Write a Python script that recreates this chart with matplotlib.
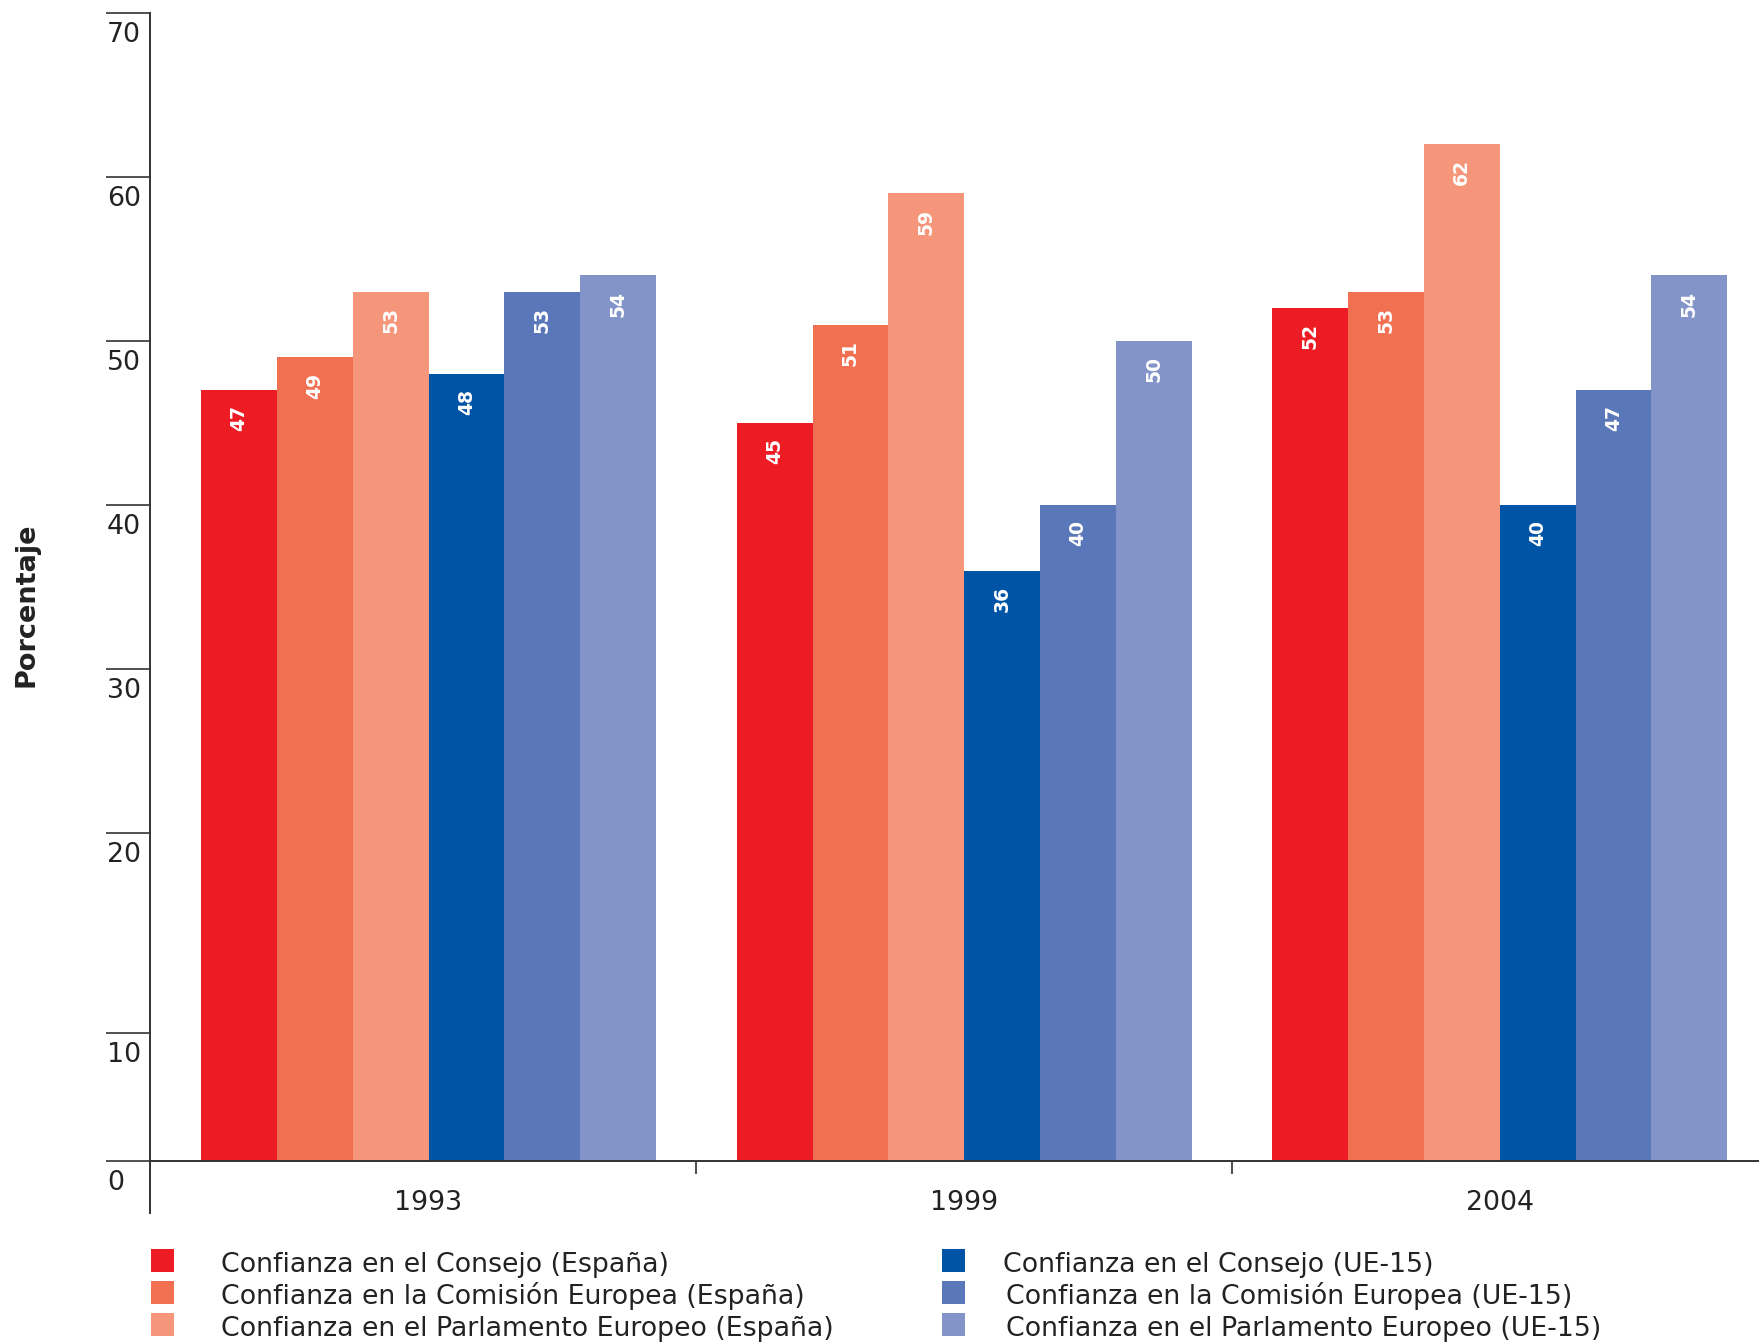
import numpy as np
import matplotlib
matplotlib.use("Agg")
import matplotlib.pyplot as plt
import matplotlib.transforms as mtransforms
from matplotlib.patches import Rectangle

years = ["1993", "1999", "2004"]
series_labels = [
    "Confianza en el Consejo (España)",
    "Confianza en la Comisión Europea (España)",
    "Confianza en el Parlamento Europeo (España)",
    "Confianza en el Consejo (UE-15)",
    "Confianza en la Comisión Europea (UE-15)",
    "Confianza en el Parlamento Europeo (UE-15)",
]
consejo_es = [47, 45, 52]
comision_es = [49, 51, 53]
parlamento_es = [53, 59, 62]
consejo_ue = [48, 36, 40]
comision_ue = [53, 40, 47]
parlamento_ue = [54, 50, 54]
series = [consejo_es, comision_es, parlamento_es, consejo_ue, comision_ue, parlamento_ue]
colors = ["#ED1C24", "#F27052", "#F5967A", "#0054A6", "#5A77B9", "#8294C8"]

# y ticks as printed in the original (the "10" mark sits a bit low there)
ytick_pos = [0, 7.8, 20, 30, 40, 50, 60, 70]
ytick_lab = ["0", "10", "20", "30", "40", "50", "60", "70"]

W, H = 1759, 1343
fig = plt.figure(figsize=(W / 100, H / 100), dpi=100)
ax = fig.add_axes([150 / W, 1 - 1213 / H, 1 - 150 / W, (1213 - 13) / H])

x = np.arange(len(years))
width = 0.1415
for i, vals in enumerate(series):
    xs = x - 3 * width + width * (i + 0.5)
    ax.bar(xs, vals, width, color=colors[i], edgecolor="none", zorder=2)
    for xi, v in zip(xs, vals):
        ax.annotate(str(v), (xi, v), xytext=(0, -11), textcoords="offset points",
                    rotation=90, ha="center", va="top", color="white",
                    fontsize=13.5, fontweight="bold", zorder=3)

ax.set_xlim(-0.52, 2.484)
ax.set_ylim(-3.17, 70)

for s in ["top", "right"]:
    ax.spines[s].set_visible(False)
ax.spines["bottom"].set_position(("data", 0))
ax.spines["left"].set_color("#333333")
ax.spines["bottom"].set_color("#333333")
ax.spines["left"].set_linewidth(1.4)
ax.spines["bottom"].set_linewidth(1.4)

# x axis: year labels, small separator ticks between groups
ax.set_xticks(x)
ax.set_xticklabels(years, fontsize=19.3, color="#222222")
ax.tick_params(axis="x", which="major", length=0, pad=21)
ax.set_xticks([0.5, 1.5], minor=True)
ax.tick_params(axis="x", which="minor", length=9, width=1.5, color="#555555", direction="out")

# y axis: long ticks to the left, labels written under each tick
ax.set_yticks(ytick_pos)
ax.set_yticklabels([])
ax.tick_params(axis="y", length=32, width=1.2, color="#333333", direction="out")
lab_trans = mtransforms.offset_copy(ax.get_yaxis_transform(), fig=fig, x=0, y=-9, units="dots")
for p, lab in zip(ytick_pos, ytick_lab):
    ax.text(-43 / (W - 150), p, lab, transform=lab_trans, ha="left", va="top",
            fontsize=19.3, color="#222222", clip_on=False)

fig.text(27 / W, 1 - 605 / H, "Porcentaje", rotation=90, ha="center", va="center",
         fontsize=19.5, fontweight="bold", color="#222222")

# legend, two columns of three
sq = 23
rows_bottom = [1272, 1304, 1336]
col_sq = [151, 942]
col_txt = [[221, 221, 221], [1003, 1006, 1006]]
for c in range(2):
    for r in range(3):
        k = c * 3 + r
        fig.add_artist(Rectangle((col_sq[c] / W, 1 - rows_bottom[r] / H), sq / W, sq / H,
                                 transform=fig.transFigure, facecolor=colors[k], edgecolor="none"))
        fig.text(col_txt[c][r] / W, 1 - rows_bottom[r] / H, series_labels[k],
                 ha="left", va="baseline", fontsize=19.3, color="#222222")

plt.savefig("out.png", dpi=100)
